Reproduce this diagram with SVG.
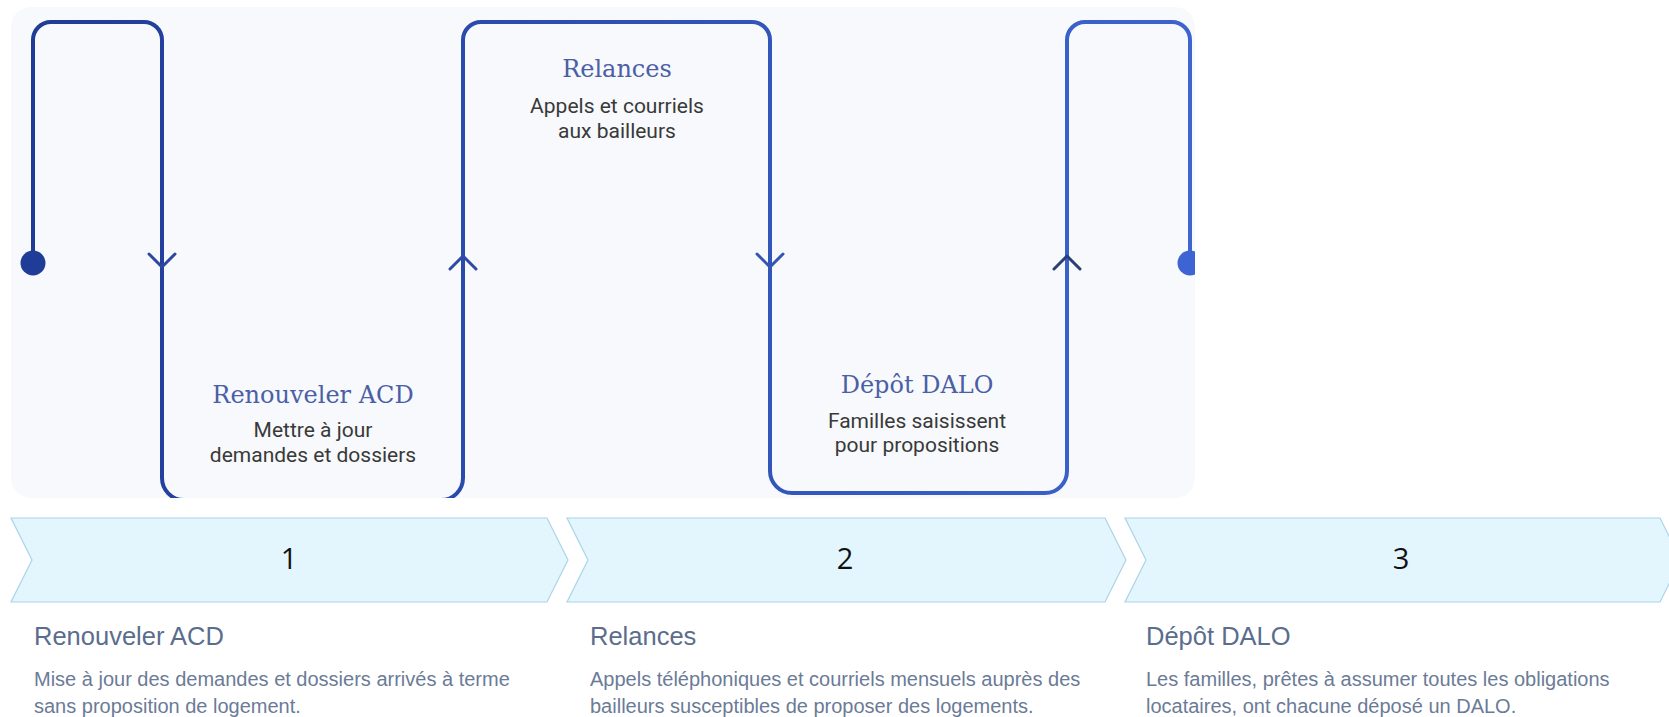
<svg xmlns="http://www.w3.org/2000/svg" width="1669" height="717" viewBox="0 0 1669 717">
  <style>
    .ttl { font-family: "DejaVu Serif", "Liberation Serif", serif; font-size: 24px; fill: #4b5fa6; text-anchor: middle; }
    .sub { font-family: Roboto, "Liberation Sans", sans-serif; font-size: 21px; fill: #393939; text-anchor: middle; }
    .chev { fill: #e3f5fd; stroke: #a9d5e8; stroke-width: 1.2; }
    .num { font-family: "Open Sans", "Noto Sans", sans-serif; font-size: 29px; fill: #111111; text-anchor: middle; }
    .head { font-family: "Liberation Sans", Arial, sans-serif; font-size: 25.5px; fill: #5a6d8d; }
    .desc { font-family: "Liberation Sans", Arial, sans-serif; font-size: 20px; fill: #6b7b97; }
    .flow { fill: none; stroke: url(#lineGrad); stroke-width: 4; stroke-linecap: round; stroke-linejoin: round; }
    .tick { fill: none; stroke-width: 3; stroke-linecap: round; stroke-linejoin: round; }
  </style>
  <defs>
    <linearGradient id="lineGrad" gradientUnits="userSpaceOnUse" x1="30" y1="0" x2="1195" y2="0">
      <stop offset="0" stop-color="#1f3c96"/>
      <stop offset="1" stop-color="#3d64cf"/>
    </linearGradient>
    <clipPath id="panelClip">
      <rect x="11" y="7" width="1184" height="491" rx="20"/>
    </clipPath>
  </defs>

  <rect width="1669" height="717" fill="#ffffff"/>

  <g id="panel">
    <rect x="11" y="7" width="1184" height="491" rx="20" fill="#f7f9fc"/>
  </g>

  <g id="connectors" clip-path="url(#panelClip)">
    <path class="flow" d="M33 263 V40 A18 18 0 0 1 51 22 H144 A18 18 0 0 1 162 40 V478 A22 22 0 0 0 184 500 H441 A22 22 0 0 0 463 478 V40 A18 18 0 0 1 481 22 H752 A18 18 0 0 1 770 40 V471 A22 22 0 0 0 792 493 H1045 A22 22 0 0 0 1067 471 V40 A18 18 0 0 1 1085 22 H1172 A18 18 0 0 1 1190 40 V263"/>
    <polyline class="tick" stroke="#2b479f" points="149,254 162,267 175,254"/>
    <polyline class="tick" stroke="#2e4aa6" points="450,269 463,256 476,269"/>
    <polyline class="tick" stroke="#3555b5" points="757,254 770,267 783,254"/>
    <polyline class="tick" stroke="#2c3e78" points="1054,269 1067,256 1080,269"/>
    <circle cx="33" cy="263" r="12.5" fill="#1f3c96"/>
    <circle cx="1190" cy="263" r="12.5" fill="#3d64d2"/>
  </g>

  <g id="node-renouveler-top">
    <text class="ttl" x="313" y="403">Renouveler ACD</text>
    <text class="sub" x="313" y="437">Mettre à jour</text>
    <text class="sub" x="313" y="462">demandes et dossiers</text>
  </g>

  <g id="node-relances-top">
    <text class="ttl" x="617" y="77">Relances</text>
    <text class="sub" x="617" y="113">Appels et courriels</text>
    <text class="sub" x="617" y="138">aux bailleurs</text>
  </g>

  <g id="node-depot-top">
    <text class="ttl" x="917" y="393">Dépôt DALO</text>
    <text class="sub" x="917" y="428">Familles saisissent</text>
    <text class="sub" x="917" y="452">pour propositions</text>
  </g>

  <g id="step-1">
    <polygon class="chev" points="11,518 547,518 568,560 547,602 11,602 32,560"/>
    <text class="num" x="289" y="569">1</text>
    <text class="head" x="34" y="645">Renouveler ACD</text>
    <text class="desc" x="34" y="686">Mise à jour des demandes et dossiers arrivés à terme</text>
    <text class="desc" x="34" y="713">sans proposition de logement.</text>
  </g>

  <g id="step-2">
    <polygon class="chev" points="567,518 1105,518 1126,560 1105,602 567,602 588,560"/>
    <text class="num" x="845" y="569">2</text>
    <text class="head" x="590" y="645">Relances</text>
    <text class="desc" x="590" y="686">Appels téléphoniques et courriels mensuels auprès des</text>
    <text class="desc" x="590" y="713">bailleurs susceptibles de proposer des logements.</text>
  </g>

  <g id="step-3">
    <polygon class="chev" points="1125,518 1660,518 1681,560 1660,602 1125,602 1146,560"/>
    <text class="num" x="1401" y="569">3</text>
    <text class="head" x="1146" y="645">Dépôt DALO</text>
    <text class="desc" x="1146" y="686">Les familles, prêtes à assumer toutes les obligations</text>
    <text class="desc" x="1146" y="713">locataires, ont chacune déposé un DALO.</text>
  </g>
</svg>
